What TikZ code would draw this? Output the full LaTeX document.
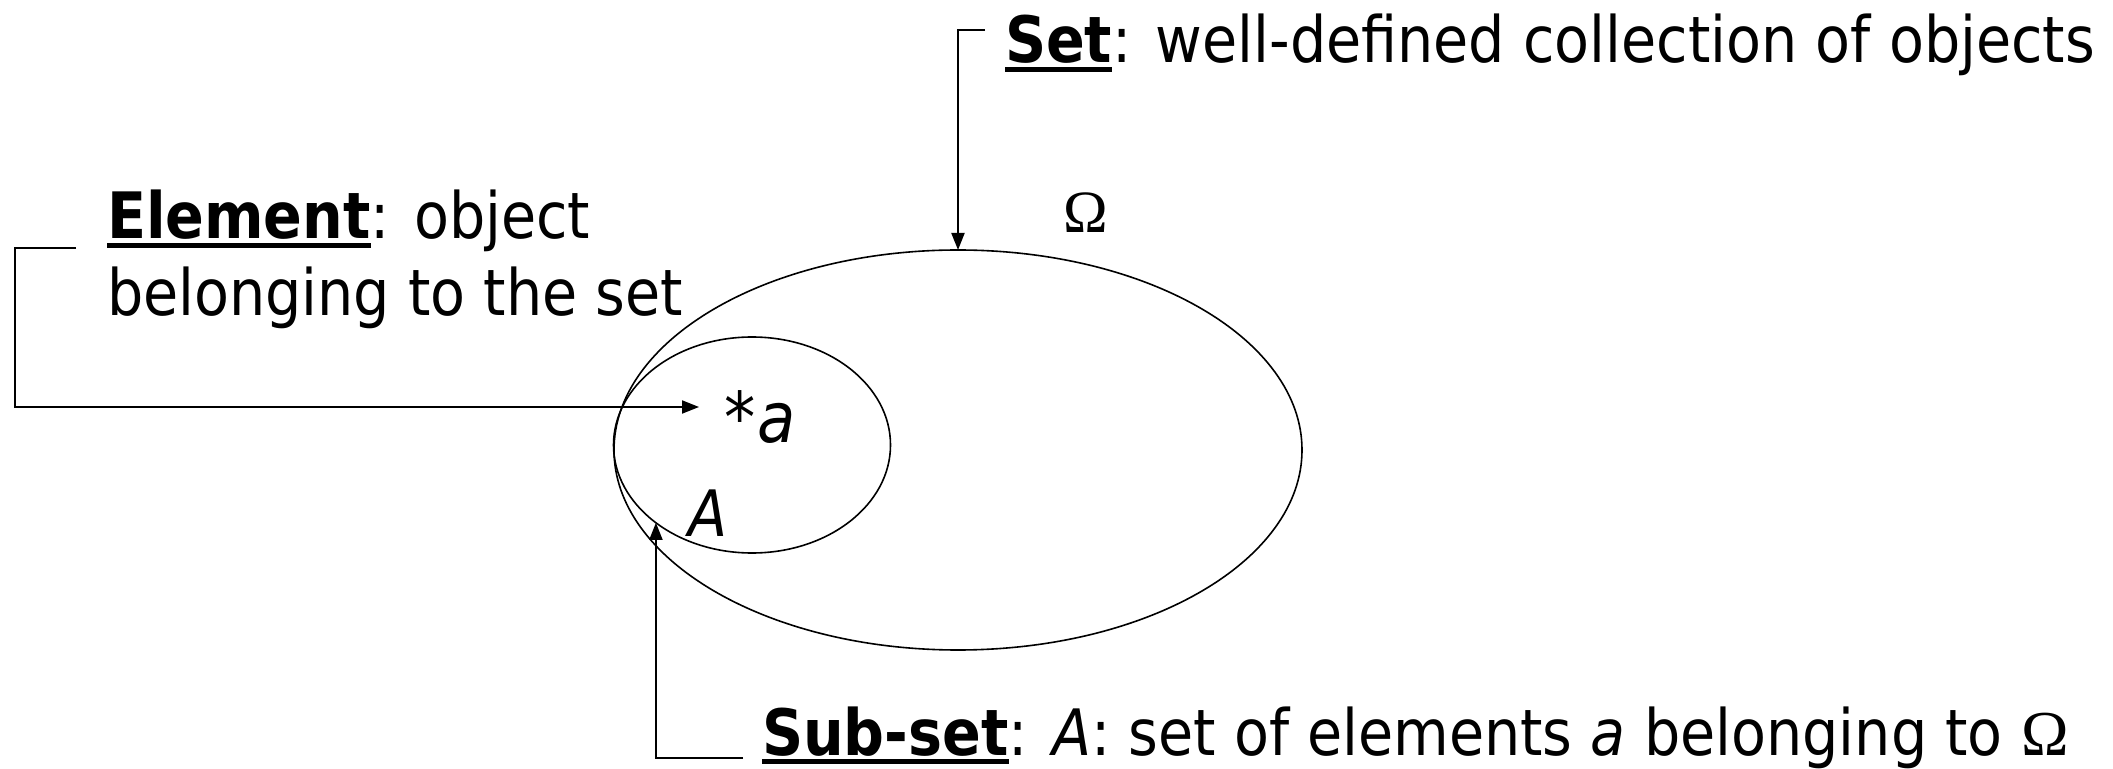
\documentclass[tikz,border=0pt]{standalone}
\usepackage{fontspec}
\setmainfont{DejaVu Sans}[FakeStretch=0.893]
\newfontfamily\omegafont{Liberation Serif}
\usetikzlibrary{shapes.geometric,arrows.meta}
\newcommand{\ulword}[1]{\leavevmode\vtop{\hbox{#1}\kern1.5pt\hrule height2.5pt}}
\tikzset{
  txt/.style={inner sep=0pt, outer sep=0pt, anchor=base west, font=\fontsize{32}{38.5}\selectfont},
  setshape/.style={draw, ellipse, line width=0.8pt, inner sep=0pt, outer sep=0pt},
  conn/.style={draw, line width=1pt, -{Triangle[length=8.5pt,width=6.5pt]}},
}
\begin{document}
\begin{tikzpicture}[x=0.5pt,y=-0.5pt]
\useasboundingbox (0,0) rectangle (2113,769);
% sets
\node[setshape, minimum width=344pt, minimum height=200pt] (Omega) at (958,450) {};
\node[setshape, minimum width=138.5pt, minimum height=108pt] (Aset) at (752,445) {};
% labels inside
\node[txt, font=\fontsize{35}{40}\selectfont] (star) at (724,443) {*\kern1pt\textit{a}};
\node[txt] (Alab) at (688,537) {\textit{A}};
\node[txt, font=\fontsize{30}{36}\omegafont] (Om) at (1063,233) {Ω};
% texts
\node[txt] (settext) at (1005,63) {\ulword{\bfseries Set}: well-defined collection of objects};
\node[txt] (elem1) at (107,239) {\ulword{\bfseries Element}: object};
\node[txt] (elem2) at (107,316) {belonging to the set};
\node[txt] (subtext) at (762,755) {\ulword{\bfseries Sub-set}: \textit{A}: set of elements \textit{a} belonging to {\omegafont Ω}};
% connectors
\coordinate (setL) at (985,30);
\draw[conn] (setL) -| (Omega.north);
\coordinate (elemL) at (76,248);
\coordinate (aTip) at (699,407);
\draw[conn] (elemL) -- ++(-61,0) |- (aTip);
\coordinate (subL) at (743,758);
\draw[conn] (subL) -| (Aset.219.6);
\end{tikzpicture}
\end{document}
